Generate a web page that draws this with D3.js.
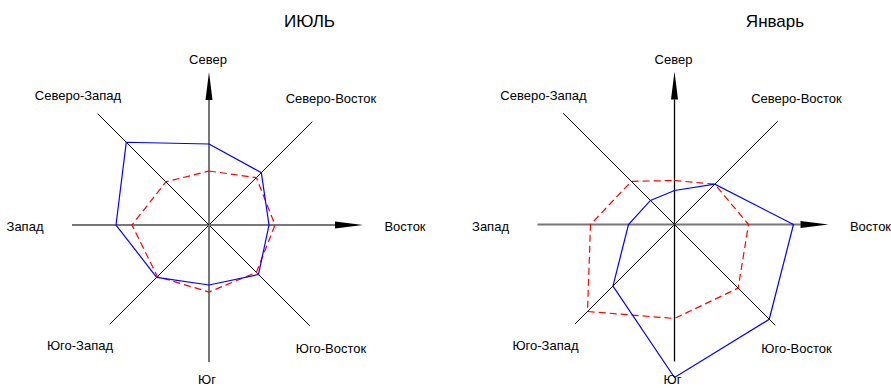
<!DOCTYPE html>
<html>
<head>
<meta charset="utf-8">
<script src="https://cdn.jsdelivr.net/npm/d3@7"></script>
<style>
  body { margin: 0; background: #fff; }
  text { font-family: "Liberation Sans", Arial, sans-serif; fill: #000; }
</style>
</head>
<body>
<svg id="chart"></svg>
<script>
var width = 891;
var height = 388;

// directions, clockwise from north
var directions = ["Север", "Северо-Восток", "Восток", "Юго-Восток", "Юг", "Юго-Запад", "Запад", "Северо-Запад"];
var titles = ["ИЮЛЬ", "Январь"];

// series values (same units as the radial scale)
var julySolid = [81, 74, 60, 70, 60, 74, 93, 117];
var julyDashed = [54, 67, 66, 67, 67, 73, 77, 61];
var januarySolid = [34, 57, 119, 134, 153, 87, 46, 34];
var januaryDashed = [44, 57, 74, 90, 94, 123, 84, 61];

// layout of one rose
var centers = [{x: 209, y: 225}, {x: 674.5, y: 224.5}];
var axisLen = [153, 146, 154, 142.5, 137, 140.5, 137, 157.5];  // arrow tip for N and E
var arrowLen = 28;
var labelPos = [[-1, -161], [122, -122], [196, 6], [122, 128], [-2, 159], [-129, 125], [-184, 6], [-131, -125]];
var titleOffset = {x: 100.5, y: -198};

var r = d3.scaleLinear().domain([0, 100]).range([0, 100]);
var angle = d3.scaleLinear().domain([0, directions.length]).range([0, 2 * Math.PI]);

var svg = d3.select("#chart").attr("width", width).attr("height", height);

var roses = [
    {title: titles[0], solid: julySolid, dashed: julyDashed, vColor: "#777", vWidth: 2},
    {title: titles[1], solid: januarySolid, dashed: januaryDashed, vColor: "#000", vWidth: 1.3}
];

roses.forEach(function (rose, k) {
    var g = svg.append("g")
        .attr("transform", "translate(" + centers[k].x + "," + centers[k].y + ")");

    // axis lines
    directions.forEach(function (d, i) {
        var a = angle(i);
        var len = axisLen[i];
        var hasArrow = (i === 0 || i === 2);
        var end = hasArrow ? len - arrowLen : len;
        var color = "#000", w = 1;
        if (i === 0 || i === 4) { color = rose.vColor; w = rose.vWidth; }
        if (i === 2 || i === 6) { color = "#777"; w = 2; }
        g.append("line")
            .attr("x1", 0).attr("y1", 0)
            .attr("x2", end * Math.sin(a))
            .attr("y2", -end * Math.cos(a))
            .attr("stroke", color)
            .attr("stroke-width", w);
        if (hasArrow) {
            g.append("path")
                .attr("d", "M" + (-3.5) + "," + (-(len - arrowLen)) + "L0," + (-len) + "L3.5," + (-(len - arrowLen)) + "Z")
                .attr("fill", "#000")
                .attr("transform", "rotate(" + (a * 180 / Math.PI) + ")");
        }
    });

    var line = d3.lineRadial()
        .angle(function (d, i) { return angle(i); })
        .radius(function (d) { return r(d); })
        .curve(d3.curveLinearClosed);

    g.append("path")
        .attr("d", line(rose.dashed))
        .attr("fill", "none")
        .attr("stroke", "#ff0000")
        .attr("stroke-width", 1.2)
        .attr("stroke-dasharray", "7,4");

    g.append("path")
        .attr("d", line(rose.solid))
        .attr("fill", "none")
        .attr("stroke", "#0000ff")
        .attr("stroke-width", 1.2);

    g.selectAll("text.label")
        .data(directions)
        .enter()
        .append("text")
        .attr("class", "label")
        .attr("x", function (d, i) { return labelPos[i][0]; })
        .attr("y", function (d, i) { return labelPos[i][1]; })
        .attr("text-anchor", "middle")
        .attr("font-size", 13)
        .text(function (d) { return d; });

    g.append("text")
        .attr("x", titleOffset.x)
        .attr("y", titleOffset.y)
        .attr("text-anchor", "middle")
        .attr("font-size", 17)
        .text(rose.title);
});
</script>
</body>
</html>
